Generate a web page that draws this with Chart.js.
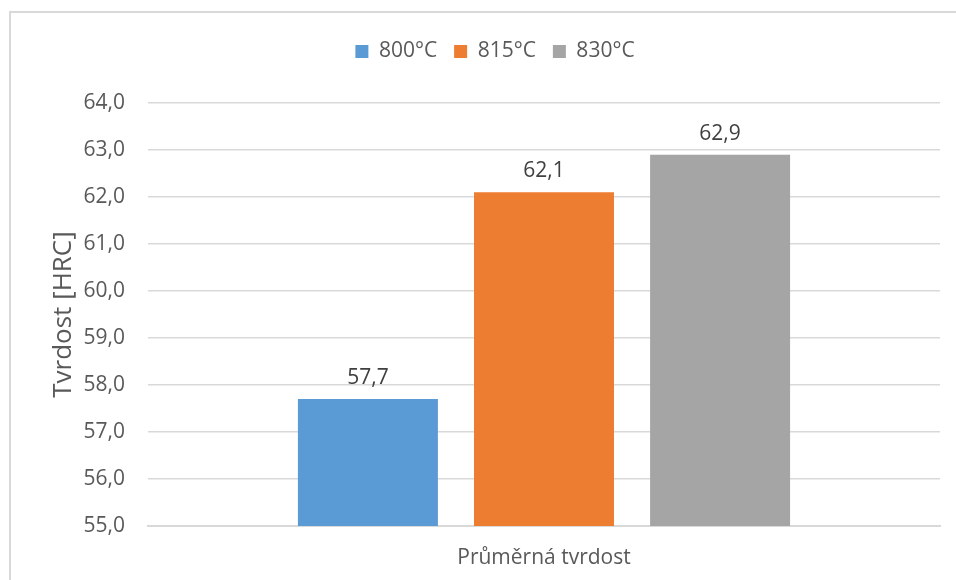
<!DOCTYPE html>
<html>
<head>
<meta charset="utf-8">
<script src="https://cdn.jsdelivr.net/npm/chart.js@4"></script>
<style>
  html, body { margin: 0; padding: 0; background: #fff; }
  #wrap { position: relative; width: 956px; height: 580px; }
  #frame { position: absolute; left: 9px; top: 11px; width: 960px; height: 600px; border-left: 2px solid #d9d9d9; border-top: 2px solid #d9d9d9; box-sizing: border-box; pointer-events: none; }
  canvas { position: absolute; left: 0; top: 0; }
</style>
</head>
<body>
<div id="wrap">
  <canvas id="c" width="956" height="580"></canvas>
  <div id="frame"></div>
</div>
<script>
const categories = ['Průměrná tvrdost'];
const seriesNames = ['800°C', '815°C', '830°C'];
const values800 = [57.7];
const values815 = [62.1];
const values830 = [62.9];
const yTicks = [55, 56, 57, 58, 59, 60, 61, 62, 63, 64];
const yTitle = 'Tvrdost [HRC]';
const colors = ['#5B9BD5', '#ED7D31', '#A5A5A5'];

const FONT = "'Open Sans', Lato, sans-serif";
const fmt = v => v.toFixed(1).replace('.', ',');

const legendGap = {
  id: 'legendGap',
  beforeInit(chart) {
    const origFit = chart.legend.fit;
    chart.legend.fit = function () {
      origFit.bind(this)();
      this.height += 31;
    };
  },
  afterLayout(chart) {
    chart.legend.left += 19;
    chart.legend.right += 19;
  }
};

const labelPlugin = {
  id: 'valueLabels',
  afterDatasetsDraw(chart) {
    const ctx = chart.ctx;
    ctx.save();
    ctx.font = "21px " + FONT;
    ctx.fillStyle = '#404040';
    ctx.textAlign = 'center';
    ctx.textBaseline = 'middle';
    chart.data.datasets.forEach((ds, i) => {
      const meta = chart.getDatasetMeta(i);
      meta.data.forEach((bar, j) => {
        ctx.fillText(fmt(ds.data[j]), bar.x, bar.y - 21);
      });
    });
    ctx.restore();
  }
};

new Chart(document.getElementById('c'), {
  type: 'bar',
  data: {
    labels: categories,
    datasets: [
      { label: seriesNames[0], data: values800, backgroundColor: colors[0] },
      { label: seriesNames[1], data: values815, backgroundColor: colors[1] },
      { label: seriesNames[2], data: values830, backgroundColor: colors[2] }
    ]
  },
  options: {
    responsive: false,
    animation: false,
    devicePixelRatio: 1,
    categoryPercentage: 0.667,
    barPercentage: 0.795,
    layout: { padding: { left: 12, right: 16, top: 24, bottom: 8 } },
    plugins: {
      legend: {
        position: 'top',
        labels: {
          boxWidth: 13, boxHeight: 13,
          color: '#595959',
          font: { family: FONT, size: 21 },
          padding: 17
        }
      },
      tooltip: { enabled: false }
    },
    scales: {
      x: {
        grid: { display: false, drawTicks: false },
        border: { display: true, color: '#d9d9d9', width: 2 },
        ticks: { color: '#595959', font: { family: FONT, size: 21 }, padding: 19 },
        afterFit(s) { s.height = 46; }
      },
      y: {
        min: 55, max: 64,
        afterBuildTicks(s) { s.ticks = yTicks.map(v => ({ value: v })); },
        grid: { color: '#d9d9d9', lineWidth: 1.5, drawTicks: false },
        border: { display: false },
        ticks: { color: '#595959', font: { family: FONT, size: 21 }, padding: 23, callback: v => fmt(v) },
        title: { display: true, text: yTitle, color: '#595959', font: { family: FONT, size: 26, weight: 'normal' }, padding: { top: 36, bottom: 0 } },
        afterFit(s) { s.width = 136; }
      }
    }
  },
  plugins: [labelPlugin, legendGap]
});
</script>
</body>
</html>
